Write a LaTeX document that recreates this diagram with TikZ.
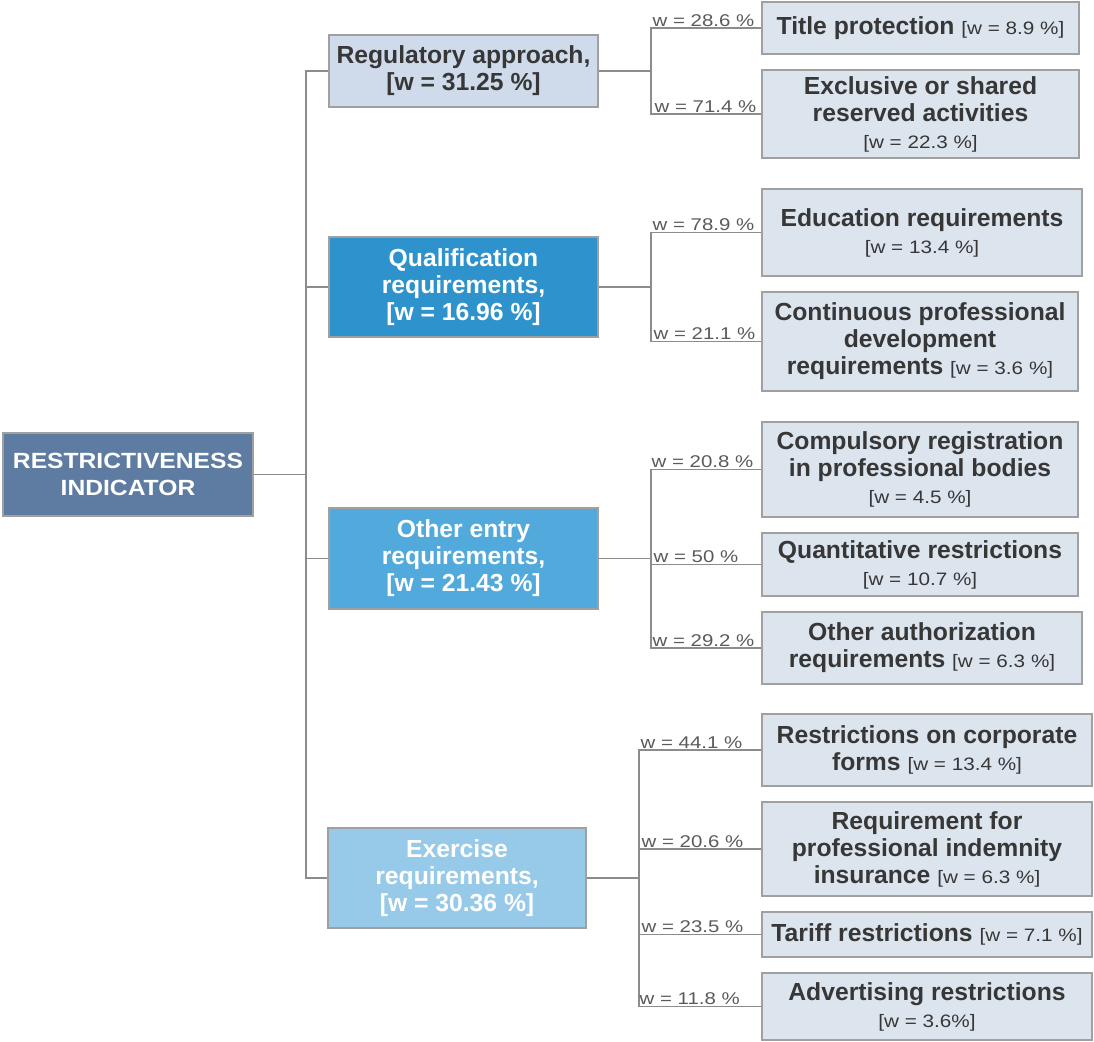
\documentclass[tikz,border=0pt]{standalone}
\usepackage{fontspec}
\setmainfont{Liberation Sans}
\newfontfamily\wfont[FakeStretch=1.15]{Liberation Sans}
\newfontfamily\labelfont[FakeStretch=1.2]{Liberation Sans}
\newfontfamily\rootfont[FakeStretch=1.12]{Liberation Sans}
\newcommand\wtag[1]{{\wfont\mdseries\fontsize{18}{27}\selectfont #1}}
\definecolor{rootc}{RGB}{94,124,162}
\definecolor{regc}{RGB}{207,219,235}
\definecolor{qualc}{RGB}{46,146,204}
\definecolor{othc}{RGB}{82,169,219}
\definecolor{exc}{RGB}{151,201,233}
\definecolor{leafc}{RGB}{220,228,238}
\definecolor{txtc}{RGB}{55,55,55}
\definecolor{linec}{RGB}{140,140,140}
\definecolor{bordc}{RGB}{160,160,160}
\definecolor{lblc}{RGB}{90,90,90}
\begin{document}
\begin{tikzpicture}[x=1pt,y=-1pt,
  box/.style={draw=bordc,line width=1.2pt,rectangle,align=center,inner sep=2pt,
    font=\bfseries\fontsize{24.7}{27}\selectfont},
  rootbox/.style={box,fill=rootc,text=white,font=\rootfont\bfseries\fontsize{22}{27}\selectfont},
  midbox/.style={box,text=white},
  leaf/.style={box,fill=leafc,text=txtc},
  conn/.style={draw=linec,line width=1.3pt},
  lbl/.style={anchor=south west,inner sep=1.5pt,text=lblc,font=\labelfont\fontsize{17}{17}\selectfont}]
\useasboundingbox (0,0) rectangle (1094,1041);

% root
\node[rootbox,minimum width=250pt,minimum height=83pt] (root) at (128,474.5) {RESTRICTIVENESS\\INDICATOR};

% mid level
\node[box,fill=regc,text=txtc,minimum width=269pt,minimum height=72pt] (reg) at (463.5,71) {Regulatory approach,\\{}[w = 31.25 \%]};
\node[midbox,fill=qualc,minimum width=269pt,minimum height=100pt] (qual) at (463.5,287) {Qualification\\requirements,\\{}[w = 16.96 \%]};
\node[midbox,fill=othc,minimum width=269pt,minimum height=101pt] (oth) at (463.5,558.5) {Other entry\\requirements,\\{}[w = 21.43 \%]};
\node[midbox,fill=exc,minimum width=258pt,minimum height=100pt] (exr) at (457,878) {Exercise\\requirements,\\{}[w = 30.36 \%]};

% leaves
\node[leaf,minimum width=317pt,minimum height=52pt] (t1) at (920.5,28) {Title protection \wtag{[w = 8.9 \%]}};
\node[leaf,minimum width=317pt,minimum height=88pt] (t2) at (920.5,114) {Exclusive or shared\\reserved activities\\\wtag{[w = 22.3 \%]}};
\node[leaf,minimum width=320pt,minimum height=87pt] (t3) at (922,232.5) {Education requirements\\\wtag{[w = 13.4 \%]}};
\node[leaf,minimum width=316pt,minimum height=99pt] (t4) at (920,341.5) {Continuous professional\\development\\requirements \wtag{[w = 3.6 \%]}};
\node[leaf,minimum width=316pt,minimum height=95pt] (t5) at (920,469.5) {Compulsory registration\\in professional bodies\\\wtag{[w = 4.5 \%]}};
\node[leaf,minimum width=316pt,minimum height=63pt] (t6) at (920,564.5) {Quantitative restrictions\\\wtag{[w = 10.7 \%]}};
\node[leaf,minimum width=320pt,minimum height=72pt] (t7) at (922,648) {Other authorization\\requirements \wtag{[w = 6.3 \%]}};
\node[leaf,minimum width=330pt,minimum height=72pt] (t8) at (927,750) {Restrictions on corporate\\forms \wtag{[w = 13.4 \%]}};
\node[leaf,minimum width=330pt,minimum height=94pt] (t9) at (927,849) {Requirement for\\professional indemnity\\insurance \wtag{[w = 6.3 \%]}};
\node[leaf,minimum width=330pt,minimum height=45pt] (t10) at (927,934.5) {Tariff restrictions \wtag{[w = 7.1 \%]}};
\node[leaf,minimum width=330pt,minimum height=67pt] (t11) at (927,1006.5) {Advertising restrictions\\\wtag{[w = 3.6\%]}};

% trunk
\coordinate (tr) at (306,474.5);
\draw[conn] (root.east) -- (tr);
\draw[conn] (tr) |- (reg.west);
\draw[conn] (tr) |- (qual.west);
\draw[conn] (tr) |- (oth.west);
\draw[conn] (tr) |- (exr.west);

% buses
\coordinate (b1) at (651,71);
\coordinate (b2) at (651,287);
\coordinate (b3) at (651,558.5);
\coordinate (b4) at (639,878);
\draw[conn] (reg.east) -- (b1);
\draw[conn] (qual.east) -- (b2);
\draw[conn] (oth.east) -- (b3);
\draw[conn] (exr.east) -- (b4);
\foreach \b/\t in {b1/t1,b1/t2,b2/t3,b2/t4,b3/t5,b3/t6,b3/t7,b4/t8,b4/t9,b4/t10,b4/t11}
  \draw[conn] (\b) |- (\t.west);

% labels
\node[lbl] (l1) at (651,28) {w = 28.6 \%};
\node[lbl] (l2) at (653,114) {w = 71.4 \%};
\node[lbl] (l3) at (651,232.5) {w = 78.9 \%};
\node[lbl] (l4) at (652,341.5) {w = 21.1 \%};
\node[lbl] (l5) at (650,469.5) {w = 20.8 \%};
\node[lbl] (l6) at (652,564.5) {w = 50 \%};
\node[lbl] (l7) at (651,648) {w = 29.2 \%};
\node[lbl] (l8) at (639,750) {w = 44.1 \%};
\node[lbl] (l9) at (640,849) {w = 20.6 \%};
\node[lbl] (l10) at (640,934.5) {w = 23.5 \%};
\node[lbl] (l11) at (638,1006.5) {w = 11.8 \%};
\end{tikzpicture}
\end{document}
